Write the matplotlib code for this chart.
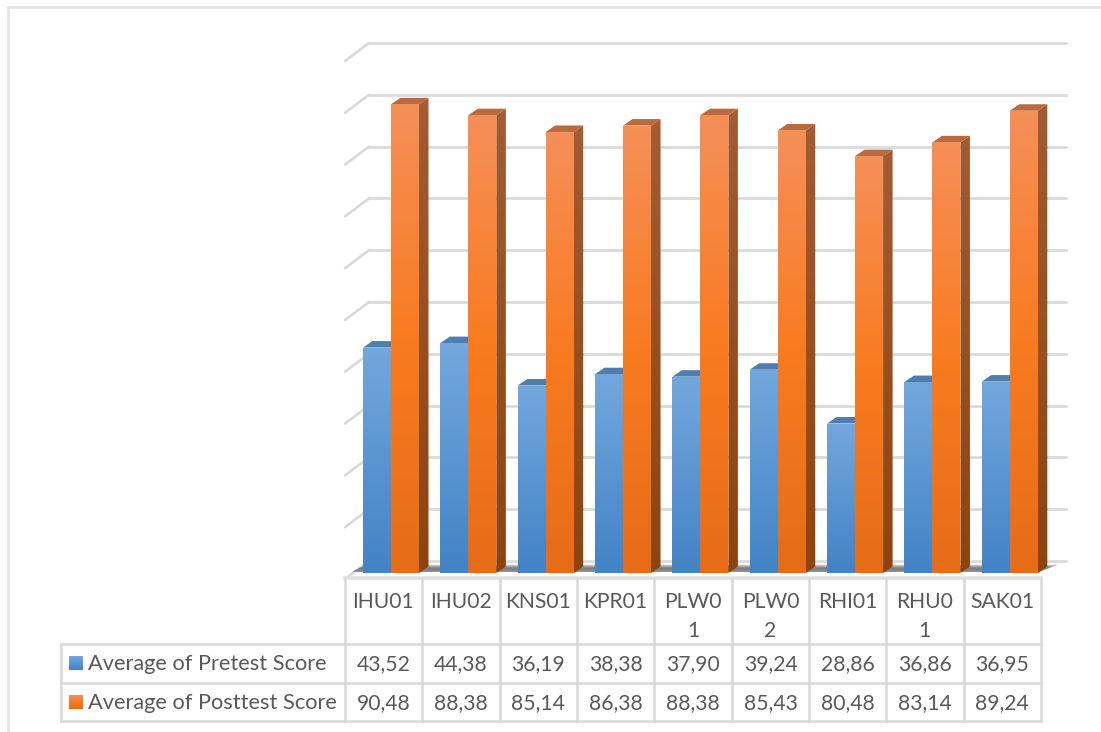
import numpy as np
import matplotlib
matplotlib.use('Agg')
import matplotlib.pyplot as plt
from matplotlib.colors import LinearSegmentedColormap
from matplotlib.patches import Polygon

plt.rcParams['font.family'] = ['Lato', 'DejaVu Sans']

categories = ['IHU01', 'IHU02', 'KNS01', 'KPR01', 'PLW0\n1', 'PLW0\n2', 'RHI01', 'RHU0\n1', 'SAK01']
pretest = [43.52, 44.38, 36.19, 38.38, 37.90, 39.24, 28.86, 36.86, 36.95]
posttest = [90.48, 88.38, 85.14, 86.38, 88.38, 85.43, 80.48, 83.14, 89.24]
pretest_labels = ['43,52', '44,38', '36,19', '38,38', '37,90', '39,24', '28,86', '36,86', '36,95']
posttest_labels = ['90,48', '88,38', '85,14', '86,38', '88,38', '85,43', '80,48', '83,14', '89,24']
grid_values = [0, 10, 20, 30, 40, 50, 60, 70, 80, 90, 100]
series_names = ['Average of Pretest Score', 'Average of Posttest Score']

W, H = 1101, 732
GREY = '#d9d9d9'
TXT = '#595959'
FS = 15.2

# scale of the front plane
PX_CAT = 77.35
PX_SCORE = 5.18
X0 = 391
Y0 = 573

blue_cm = LinearSegmentedColormap.from_list('b', ['#72a7dd', '#4383c6'])
orange_cm = LinearSegmentedColormap.from_list('o', ['#f58f58', '#f97b20', '#e66c18'])
oside_cm = LinearSegmentedColormap.from_list('os', ['#a35c33', '#8c440f'])
shadow_cm = LinearSegmentedColormap.from_list('s', ['#e4e4e4', '#7d7d7d', '#8f8f8f'])

fig = plt.figure(figsize=(W / 100, H / 100), dpi=100)
fig.patch.set_facecolor('white')
ax = fig.add_axes([0, 0, 1, 1])
ax.axis('off')

# outer frame, table lines and labels are in pixels
tb = fig.add_axes([0, 0, 1, 1], zorder=3)
tb.set_xlim(0, W)
tb.set_ylim(H, 0)
tb.axis('off')
tb.patch.set_alpha(0)


def gradient(x0, x1, y0, y1, cmap, verts, z):
    g = np.linspace(0, 1, 64).reshape(-1, 1)
    im = ax.imshow(g, extent=(x0, x1, y0, y1), cmap=cmap, aspect='auto', zorder=z, origin='upper')
    poly = Polygon(verts, closed=True, transform=ax.transData, fc='none', ec='none')
    ax.add_patch(poly)
    im.set_clip_path(poly)


# depth of a bar, in data units
dx = 9.5 / PX_CAT
dy = 6.5 / PX_SCORE
width = 28 / PX_CAT

# walls and floor
wall_dx = 24 / PX_CAT
wall_dy = 18 / PX_SCORE
back_x = -22 / PX_CAT
for v in grid_values:
    y = v + 2.32
    ax.plot([back_x - wall_dx, back_x], [y - wall_dy, y], color=GREY, lw=1.9, zorder=1, solid_capstyle='round')
    ax.plot([back_x, (1066 - X0) / PX_CAT], [y, y], color=GREY, lw=1.9, zorder=1)

# shadow on the floor
gradient(-0.5, 8.7, 0.2, 1.6, shadow_cm, [(-0.34, 1.6), (8.62, 1.6), (8.38, 0.2), (-0.5, 0.2)], 1.5)

for i in range(len(categories)):
    b = pretest[i]
    p = posttest[i]
    # pretest bar
    ax.add_patch(Polygon([(i - width, b), (i - width + dx, b + dy), (i + dx, b + dy), (i, b)],
                         closed=True, fc='#4f7eae', ec='none', zorder=2))
    gradient(i - width, i, 0, b, blue_cm, [(i - width, 0), (i, 0), (i, b), (i - width, b)], 2.1)
    # posttest bar
    ax.add_patch(Polygon([(i, p), (i + dx, p + dy), (i + width + dx, p + dy), (i + width, p)],
                         closed=True, fc='#b96b3f', ec='none', zorder=2.2))
    gradient(i + width, i + width + dx, 0, p + dy, oside_cm,
             [(i + width, 0), (i + width + dx, dy), (i + width + dx, p + dy), (i + width, p)], 2.2)
    gradient(i, i + width, 0, p, orange_cm, [(i, 0), (i + width, 0), (i + width, p), (i, p)], 2.3)

ax.set_xlim((0 - X0) / PX_CAT, (W - X0) / PX_CAT)
ax.set_ylim((Y0 - H) / PX_SCORE, Y0 / PX_SCORE)

# frame round the whole chart
tb.plot([8, 8], [H, 7], color='#e2e2e2', lw=1.8)
tb.plot([8, W], [7, 7], color='#e2e2e2', lw=1.8)

# data table under the bars
col_x = [345, 422, 499.5, 577, 654, 732, 809, 886, 963.5, 1041]
row_y = [577.5, 644, 683, 721]
for x in col_x:
    tb.plot([x, x], [row_y[0], row_y[-1]], color=GREY, lw=1.8, zorder=1)
tb.plot([61, 61], [row_y[1], row_y[-1]], color=GREY, lw=1.8, zorder=1)
tb.plot([345, 1041], [row_y[0], row_y[0]], color='#e0e0e0', lw=2.6, zorder=1)
for y in row_y[1:]:
    tb.plot([61, 1041], [y, y], color=GREY, lw=1.8, zorder=1)

for i in range(len(categories)):
    cx = (col_x[i] + col_x[i + 1]) / 2
    tb.text(cx, 592, categories[i], ha='center', va='top', fontsize=FS, color=TXT, linespacing=1.55)
    tb.text(cx, 664, pretest_labels[i], ha='center', va='center', fontsize=FS, color=TXT)
    tb.text(cx, 703, posttest_labels[i], ha='center', va='center', fontsize=FS, color=TXT)

# series keys
for cm, y0, name, ty in [(blue_cm, 656, series_names[0], 664), (orange_cm, 695, series_names[1], 703)]:
    tb.imshow(np.linspace(0, 1, 32).reshape(-1, 1), extent=(69, 83, y0 + 14, y0), cmap=cm, aspect='auto', origin='upper')
    tb.text(88, ty, name, ha='left', va='center', fontsize=15.7, color=TXT)
tb.set_xlim(0, W)
tb.set_ylim(H, 0)

fig.savefig('out.png', dpi=100, facecolor='white')
